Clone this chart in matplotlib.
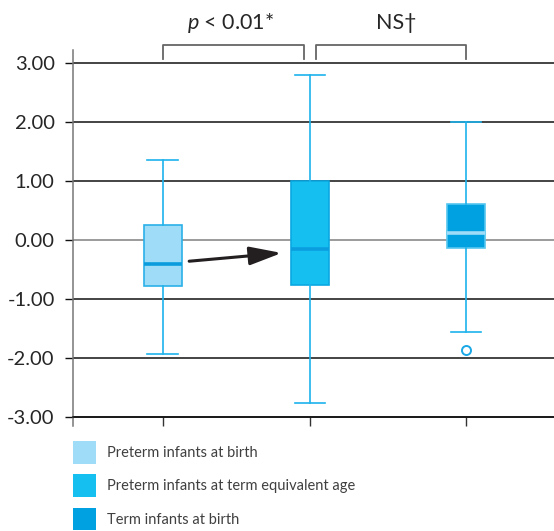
import matplotlib
matplotlib.use("Agg")
import matplotlib.pyplot as plt
from matplotlib.patches import Patch

plt.rcParams['font.family'] = ['Lato', 'DejaVu Sans']
plt.rcParams['mathtext.fontset'] = 'custom'
plt.rcParams['mathtext.it'] = 'Lato:italic'
plt.rcParams['mathtext.rm'] = 'Lato'

# data
groups = ['Preterm infants at birth',
          'Preterm infants at term equivalent age',
          'Term infants at birth']
q1 = [-0.78, -0.76, -0.13]
med = [-0.41, -0.15, 0.12]
q3 = [0.25, 1.00, 0.61]
whis_lo = [-1.94, -2.76, -1.56]
whis_hi = [1.36, 2.80, 2.00]
fliers = [[], [], [-1.87]]
yticks = [-3, -2, -1, 0, 1, 2, 3]

fills = ['#9EDCF7', '#15C0F1', '#00A1E0']
edges = ['#2BB0E8', '#0AA8E2', '#55C6F0']
medc = ['#0A9CDC', '#0A9EDF', '#9EDCF7']
whisc = '#1DB3EC'

stats = []
for i in range(3):
    stats.append(dict(q1=q1[i], med=med[i], q3=q3[i], whislo=whis_lo[i],
                      whishi=whis_hi[i], fliers=fliers[i]))
pos = [1, 1.97, 3]

fig = plt.figure(figsize=(5.54, 5.31), dpi=100)
ax = fig.add_axes([0.1312, 0.1977, 0.8688, 0.7081])

bp = ax.bxp(stats, positions=pos, widths=0.25, capwidths=0.2,
            patch_artist=True, showfliers=True, zorder=3)
for i in range(3):
    bp['boxes'][i].set(facecolor=fills[i], edgecolor=edges[i], linewidth=1.2)
    bp['medians'][i].set(color=medc[i], linewidth=2.6)
    for ln in bp['whiskers'][2*i:2*i+2] + bp['caps'][2*i:2*i+2]:
        ln.set(color=whisc, linewidth=1.2)
    bp['fliers'][i].set(marker='o', markerfacecolor='white',
                        markeredgecolor='#1AA8E6', markersize=6.5,
                        markeredgewidth=1.4)

ax.set_xlim(0.407, 3.58)
ax.set_ylim(-3.158, 3.226)
ax.set_yticks(yticks)
ax.set_yticklabels(['%.2f' % v for v in yticks])
ax.set_xticks(pos)
ax.set_xticklabels([])
ax.tick_params(axis='y', length=6, width=1, color='#111111', pad=7,
               labelsize=14.5, labelcolor='#262626')
ax.tick_params(axis='x', length=6.5, width=1, color='#333333', direction='out')
ax.yaxis.grid(True, color='#111111', linewidth=1.1, zorder=1)
ax.set_axisbelow(True)
for gl, v in zip(ax.yaxis.get_gridlines(), yticks):
    if v == 0:
        gl.set_color('#808080')

for s in ['top', 'right']:
    ax.spines[s].set_visible(False)
ax.spines['bottom'].set_position(('data', -3))
ax.spines['bottom'].set_color('#111111')
ax.spines['bottom'].set_linewidth(1.1)
ax.spines['left'].set_color('#777777')
ax.spines['left'].set_linewidth(1.1)

# arrow between first two boxes
ax.annotate('', xy=(1.785, -0.22), xytext=(1.175, -0.36),
            arrowprops=dict(arrowstyle='-|>,head_length=1.4,head_width=0.4',
                            mutation_scale=14, lw=2.2, color='#231F20',
                            shrinkA=0, shrinkB=0), zorder=5)

# significance brackets
brk = '#666666'
for xa, xb in [(1.0, 1.935), (2.01, 3.0)]:
    ax.plot([xa, xa, xb, xb], [3.07, 3.31, 3.31, 3.07], color=brk,
            lw=1.3, clip_on=False)
ax.text(1.45, 3.68, r'$p$ < 0.01*', ha='center', va='center',
        fontsize=15.5, color='#262626', clip_on=False)
ax.text(2.54, 3.68, 'NS\u2020', ha='center', va='center',
        fontsize=15.5, color='#262626', clip_on=False)

handles = [Patch(facecolor=c, edgecolor='none') for c in fills]
fig.legend(handles, groups, loc='upper left',
           bbox_to_anchor=(73 / 554, 1 - 441 / 531), frameon=False,
           fontsize=10.5, handlelength=1.6, handleheight=2.0,
           handletextpad=0.7, labelspacing=0.75, borderpad=0,
           borderaxespad=0, labelcolor='#404040')

fig.savefig('out.png', dpi=100)
